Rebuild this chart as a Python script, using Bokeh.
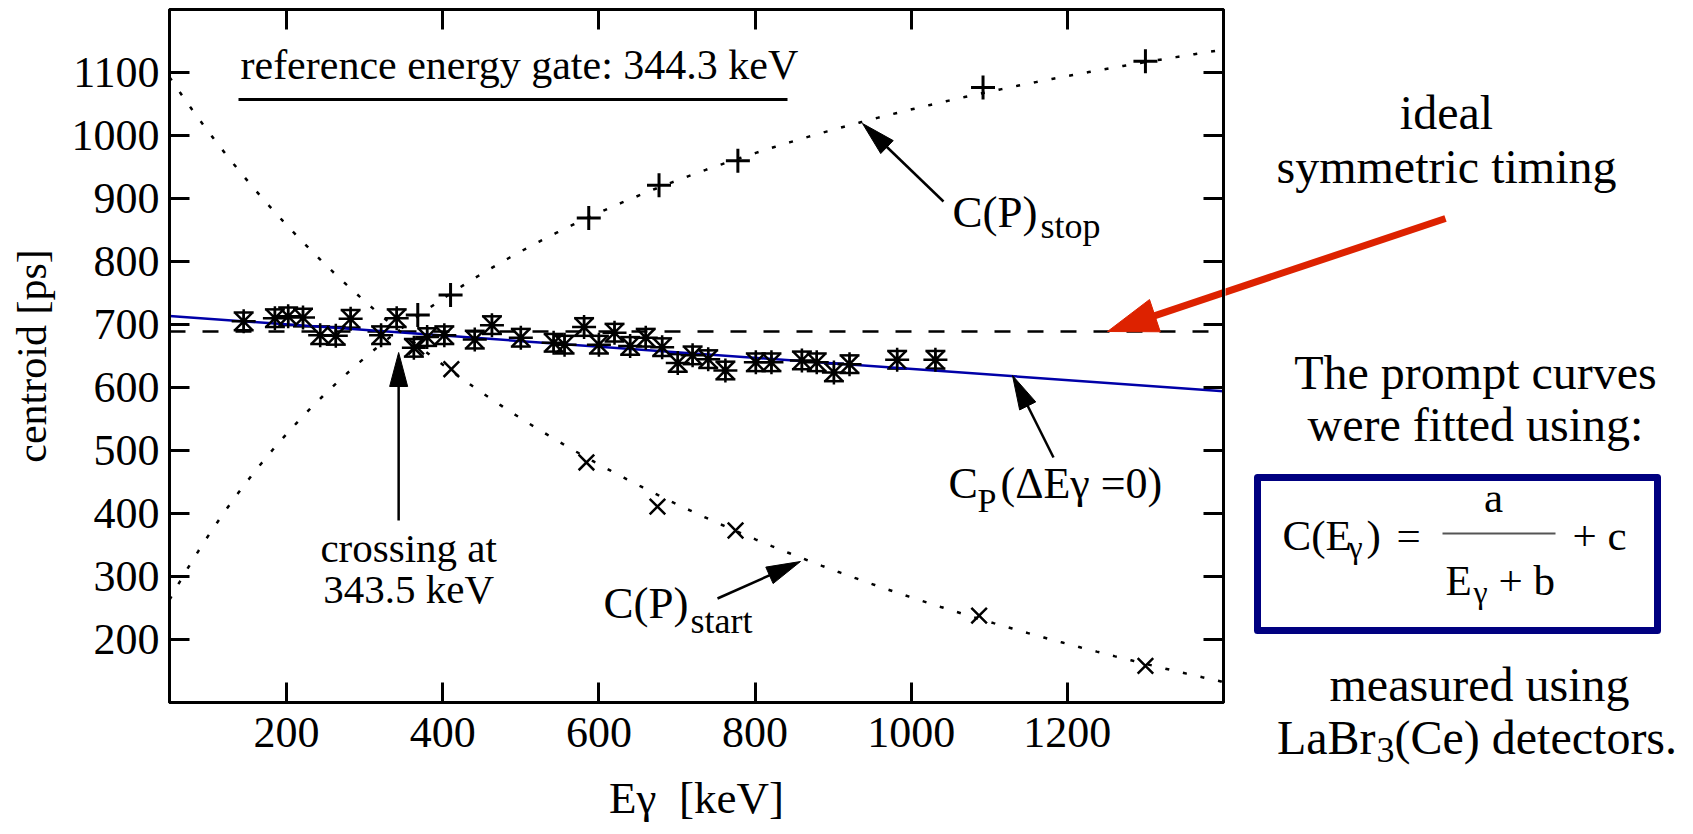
import math
import numpy as np
from bokeh.plotting import figure
from bokeh.layouts import row
from bokeh.models import (Range1d, FixedTicker, LinearAxis, ColumnDataSource,
                          Whisker, TeeHead, CustomJSTickFormatter)
from bokeh.core.properties import value
from bokeh.embed import file_html
from bokeh.resources import INLINE

# ---------------- data ----------------
X_RANGE = (50, 1400)
Y_RANGE = (100, 1200)
X_TICKS = [200, 400, 600, 800, 1000, 1200]
Y_TICKS = [200, 300, 400, 500, 600, 700, 800, 900, 1000, 1100]

# C_P(dE=0) points (asterisks with error bars)
CENT_E = [145, 185, 202, 221, 243, 263, 282, 321, 341, 363, 380, 402, 441, 463,
          500, 542, 556, 581, 600, 620, 640, 660, 681, 701, 720, 740, 762, 801,
          821, 860, 879, 901, 921, 982, 1031]
CENT_C = [705, 710, 713, 711, 683, 682, 709, 683, 710, 663, 680, 683, 676, 699,
          679, 671, 668, 696, 668, 687, 666, 679, 664, 639, 651, 645, 627, 640,
          640, 643, 640, 624, 637, 644, 644]
CENT_ERR = [14, 14, 14, 14, 14, 14, 14, 14, 14, 14, 14, 14, 14, 14,
            14, 14, 14, 14, 14, 14, 14, 14, 14, 14, 14, 14, 14, 14,
            14, 14, 14, 14, 14, 14, 14]

# C(P)stop  (+)
STOP_E = [368, 410, 587, 677, 778, 1092, 1300]
STOP_C = [715, 747, 869, 921, 960, 1076, 1118]
# C(P)start (x)
START_E = [366, 411, 584, 675, 775, 1087, 1300]
START_C = [665, 629, 481, 411, 373, 238, 158]

# fitted prompt curves C(E) = a/(E+b) + c
STOP_FIT = {"a": -676000.0, "b": 500.0, "c": 1492.0}
START_FIT = {"a": 1330000.0, "b": 800.0, "c": -472.0}

# C_P(dE=0) line and ideal symmetric timing level
PROMPT_E = [50, 1400]
PROMPT_C = [713.5, 594]
SYMMETRIC_C = 689
CROSSING_E = 343.5

# ---------------- layout (page pixels) ----------------
W, H = 1693, 834
FL, FR, FT, FB = 169, 1223, 9, 702
RB = 2
SERIF = value("Liberation Serif")
BLACK = "black"
RED = "#dd2200"
NAVY = "#000080"
BLUE = "#0000a8"
MID = 0.34  # distance from baseline to text middle, in em

X0, X1 = X_RANGE
Y0, Y1 = Y_RANGE


def dxm(px):
    return X0 + (px - FL) * (X1 - X0) / (FR - FL)


def dym(py):
    return Y0 + (FB - py) * (Y1 - Y0) / (FB - FT)


def pxm(xv):
    return FL + (xv - X0) * (FR - FL) / (X1 - X0)


MAIN = (dxm, dym)
SIDE = (lambda v: v, lambda v: v)


def txt(fig, conv, px, py, s, size, align="left", color=BLACK):
    """py is the wanted baseline (page px); text is anchored at its middle."""
    fig.text(x=[conv[0](px)], y=[conv[1](py - MID * size)], text=[s],
             text_font=SERIF, text_font_size=f"{size}px", text_align=align,
             text_baseline="middle", text_color=color)


def arrow(fig, conv, tail, tip, color, lw, hl, hw):
    tx, ty = tail
    hx, hy = tip
    L = math.hypot(hx - tx, hy - ty)
    ux, uy = (hx - tx) / L, (hy - ty) / L
    bx, by = hx - ux * hl, hy - uy * hl
    nx, ny = -uy, ux
    fx, fy = conv
    fig.line(x=[fx(tx), fx(bx + ux * 3)], y=[fy(ty), fy(by + uy * 3)],
             line_color=color, line_width=lw)
    fig.patch(x=[fx(hx), fx(bx + nx * hw / 2), fx(bx - nx * hw / 2)],
              y=[fy(hy), fy(by + ny * hw / 2), fy(by - ny * hw / 2)],
              fill_color=color, line_color=color, line_width=1)


# ---------------- main plot ----------------
p = figure(width=FR + RB, height=H,
           x_range=Range1d(*X_RANGE), y_range=Range1d(*Y_RANGE),
           output_backend="svg", toolbar_location=None,
           min_border_left=FL, min_border_right=RB,
           min_border_top=FT, min_border_bottom=H - FB,
           x_axis_label="E\u03b3 \u00a0[keV]", y_axis_label="centroid [ps]")
p.frame_align = False
p.grid.visible = False
p.outline_line_color = BLACK
p.outline_line_width = 3
p.background_fill_color = "white"
p.border_fill_color = "white"

p.xaxis.ticker = FixedTicker(ticks=X_TICKS)
p.yaxis.ticker = FixedTicker(ticks=Y_TICKS)
for ax in (p.xaxis[0], p.yaxis[0]):
    ax.major_tick_in = 20
    ax.major_tick_out = 0
    ax.minor_tick_line_color = None
    ax.major_tick_line_width = 3
    ax.axis_line_width = 3
    ax.major_label_text_font = "Liberation Serif"
    ax.major_label_text_font_size = "44px"
    ax.major_label_text_color = BLACK
    ax.axis_label_text_font = "Liberation Serif"
    ax.axis_label_text_font_style = "normal"
    ax.axis_label_text_color = BLACK
p.xaxis[0].major_label_standoff = 15
p.xaxis[0].axis_label_standoff = 23
p.xaxis[0].axis_label_text_font_size = "45px"
p.yaxis[0].major_label_standoff = 10
p.yaxis[0].axis_label_standoff = 14
p.yaxis[0].axis_label_text_font_size = "42px"

for loc, ticks in (("above", X_TICKS), ("right", Y_TICKS)):
    ax = LinearAxis(ticker=FixedTicker(ticks=ticks),
                    formatter=CustomJSTickFormatter(code="return ''"),
                    major_tick_in=20, major_tick_out=0,
                    major_tick_line_width=3, axis_line_width=3,
                    minor_tick_line_color=None,
                    major_label_text_font_size="1px", major_label_standoff=0)
    p.add_layout(ax, loc)

# reference lines
p.line(x=list(X_RANGE), y=[SYMMETRIC_C, SYMMETRIC_C], line_color=BLACK,
       line_width=2.5, line_dash="16 17")
p.line(x=PROMPT_E, y=PROMPT_C, line_color=BLUE, line_width=2.5)

# fitted curves
e = np.linspace(X0, X1, 400)
p.line(x=e, y=STOP_FIT["a"] / (e + STOP_FIT["b"]) + STOP_FIT["c"],
       line_color=BLACK, line_width=2.5, line_dash="4 14")
p.line(x=e, y=START_FIT["a"] / (e + START_FIT["b"]) + START_FIT["c"],
       line_color=BLACK, line_width=2.5, line_dash="4 14")

# asterisk points with error bars
src = ColumnDataSource(dict(
    e=CENT_E, c=CENT_C,
    lo=[c - d for c, d in zip(CENT_C, CENT_ERR)],
    hi=[c + d for c, d in zip(CENT_C, CENT_ERR)]))
p.add_layout(Whisker(source=src, base="e", upper="hi", lower="lo",
                     dimension="height", line_width=2.5, line_color=BLACK,
                     upper_head=TeeHead(size=20, line_width=2.5, line_color=BLACK),
                     lower_head=TeeHead(size=20, line_width=2.5, line_color=BLACK)))
p.scatter(x="e", y="c", source=src, marker="asterisk", size=24,
          line_color=BLACK, line_width=2.5)
p.scatter(x=STOP_E, y=STOP_C, marker="cross", size=24, line_color=BLACK,
          line_width=3)
p.scatter(x=START_E, y=START_C, marker="x", size=22, line_color=BLACK,
          line_width=2.5)

# texts inside the plot
txt(p, MAIN, 240, 79, "reference energy gate: 344.3 keV", 42)
p.line(x=[dxm(238), dxm(787)], y=[dym(99), dym(99)], line_color=BLACK,
       line_width=3)

txt(p, MAIN, 952, 227, "C(P)", 45)
txt(p, MAIN, 1040, 238, "stop", 36)
arrow(p, MAIN, (943, 201), (862, 123), BLACK, 2.5, 34, 18)

txt(p, MAIN, 948, 498, "C", 44)
txt(p, MAIN, 977, 512, "P", 34)
txt(p, MAIN, 1000, 498, "(\u0394E\u03b3 =0)", 44)
arrow(p, MAIN, (1053, 457), (1012, 375), BLACK, 2.5, 34, 18)

cx = pxm(CROSSING_E)
txt(p, MAIN, cx + 10, 561, "crossing at", 41, align="center")
txt(p, MAIN, cx + 10, 602, "343.5 keV", 41, align="center")
arrow(p, MAIN, (cx, 520), (cx, 352), BLACK, 2.5, 34, 18)

txt(p, MAIN, 603, 618, "C(P)", 45)
txt(p, MAIN, 690, 633, "start", 36)
arrow(p, MAIN, (717, 598), (800, 561), BLACK, 2.5, 34, 18)

# red arrow (part inside the plot frame)
RED_TAIL = (1445, 218)
RED_TIP = (1107, 331)
arrow(p, MAIN, RED_TAIL, RED_TIP, RED, 7, 50, 34)

# ---------------- side panel ----------------
q = figure(width=W - (FR + RB), height=H,
           x_range=Range1d(FR + RB, W), y_range=Range1d(H, 0),
           output_backend="svg", toolbar_location=None, min_border=0,
           x_axis_location=None, y_axis_location=None)
q.frame_align = False
q.grid.visible = False
q.outline_line_color = None
q.background_fill_color = "white"
q.border_fill_color = "white"

arrow(q, SIDE, RED_TAIL, RED_TIP, RED, 7, 50, 34)

txt(q, SIDE, 1446, 128, "ideal", 48, align="center")
txt(q, SIDE, 1446, 182, "symmetric timing", 48, align="center")
txt(q, SIDE, 1475, 388, "The prompt curves", 48, align="center")
txt(q, SIDE, 1475, 440, "were fitted using:", 48, align="center")

q.quad(left=[1257], right=[1657], top=[477], bottom=[630], fill_color=None,
       line_color=NAVY, line_width=7, line_join="round")

txt(q, SIDE, 1282, 550, "C(E", 43)
txt(q, SIDE, 1348, 557, "\u03b3", 32)
txt(q, SIDE, 1366, 550, ")", 43)
txt(q, SIDE, 1396, 550, "=", 43)
txt(q, SIDE, 1493, 512, "a", 43, align="center")
q.line(x=[1442, 1555], y=[533, 533], line_color="#555555", line_width=2)
txt(q, SIDE, 1445, 595, "E", 43)
txt(q, SIDE, 1473, 602, "\u03b3", 32)
txt(q, SIDE, 1498, 595, "+ b", 43)
txt(q, SIDE, 1572, 550, "+ c", 43)

txt(q, SIDE, 1479, 700, "measured using", 48, align="center")
txt(q, SIDE, 1375, 753, "LaBr", 48, align="right")
txt(q, SIDE, 1376, 762, "3", 36)
txt(q, SIDE, 1394, 753, "(Ce) detectors.", 48)

layout = row(p, q)
open("out.html", "w").write(file_html(layout, INLINE))
